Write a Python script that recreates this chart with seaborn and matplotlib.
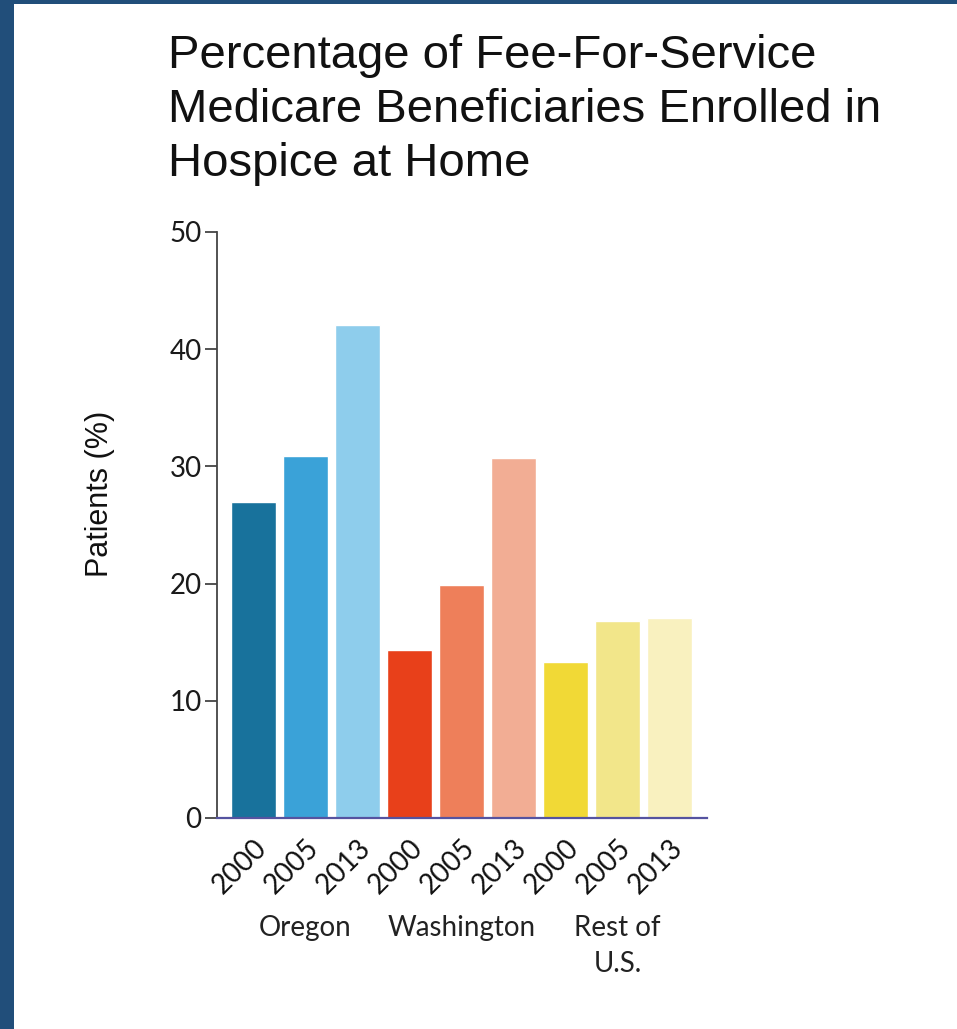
import matplotlib
matplotlib.use("Agg")
import matplotlib.pyplot as plt
import matplotlib.transforms as mtransforms
from matplotlib.patches import Rectangle
import pandas as pd
import seaborn as sns

# Data
regions = ["Oregon", "Washington", "Rest of\nU.S."]
years = ["2000", "2005", "2013"]
oregon = [27.0, 30.9, 42.1]
washington = [14.3, 19.9, 30.7]
rest_of_us = [13.3, 16.8, 17.1]
bar_colors = ["#18729c", "#3aa2d8", "#8ecdec",
              "#e8401a", "#ee7f5a", "#f2ad94",
              "#f1d936", "#f2e68a", "#f9f1bf"]

values = oregon + washington + rest_of_us
bar_ids = [f"{r}-{y}" for r in regions for y in years]
df = pd.DataFrame({"bar": bar_ids, "value": values})

sns.set_theme(style="white")
plt.rcParams["font.family"] = ["Liberation Sans", "DejaVu Sans"]

W, H = 957, 1029
fig = plt.figure(figsize=(W / 100, H / 100), dpi=100)
fig.patch.set_facecolor("white")

# Dark blue frame along the left and top edges
frame = "#214e7a"
fig.patches.append(Rectangle((0, 0), 14 / W, 1, transform=fig.transFigure,
                             facecolor=frame, edgecolor="none", zorder=-1))
fig.patches.append(Rectangle((0, 1 - 4 / H), 1, 4 / H, transform=fig.transFigure,
                             facecolor=frame, edgecolor="none", zorder=-1))

ax = fig.add_axes([217 / W, 1 - 818 / H, 490 / W, (818 - 232) / H])
sns.barplot(data=df, x="bar", y="value", hue="bar", palette=bar_colors,
            width=0.85, legend=False, ax=ax, saturation=1)

ax.set_xlim(-0.70, 8.72)
ax.set_ylim(0, 50)
ax.set_yticks([0, 10, 20, 30, 40, 50])
ax.set_yticklabels(["0", "10", "20", "30", "40", "50"],
                   family="Lato", fontsize=20, color="#1a1a1a")
ax.set_xticks(range(len(bar_ids)))
ax.set_xticklabels(years * 3, family="Lato", fontsize=20, color="#111111",
                   rotation=45, ha="right", rotation_mode="anchor")
ax.tick_params(axis="y", which="major", left=True, length=9, width=1.3,
               color="#444444", pad=2)
ax.tick_params(axis="x", which="major", bottom=False, pad=6)

ax.set_xlabel("")
ax.set_ylabel("")
for side in ["top", "right"]:
    ax.spines[side].set_visible(False)
ax.spines["left"].set_color("#444444")
ax.spines["left"].set_linewidth(1.3)
ax.spines["bottom"].set_color("#5553a0")
ax.spines["bottom"].set_linewidth(1.6)

# Group labels under the year ticks
trans = mtransforms.blended_transform_factory(ax.transData, fig.transFigure)
for i, name in enumerate(regions):
    ax.text(i * 3 + 1, 1 - 915 / H, name, transform=trans, ha="center",
            va="top", family="Lato", fontsize=20, color="#222222",
            linespacing=1.5)

fig.text(100 / W, 1 - 494 / H, "Patients (%)", rotation=90, ha="center",
         va="center", fontsize=22, color="#111111")

fig.text(168 / W, 1 - 34 / H,
         "Percentage of Fee-For-Service\nMedicare Beneficiaries Enrolled in\nHospice at Home",
         ha="left", va="top", fontsize=34, color="#111111", linespacing=1.3)

fig.savefig("out.png", dpi=100, facecolor="white")
